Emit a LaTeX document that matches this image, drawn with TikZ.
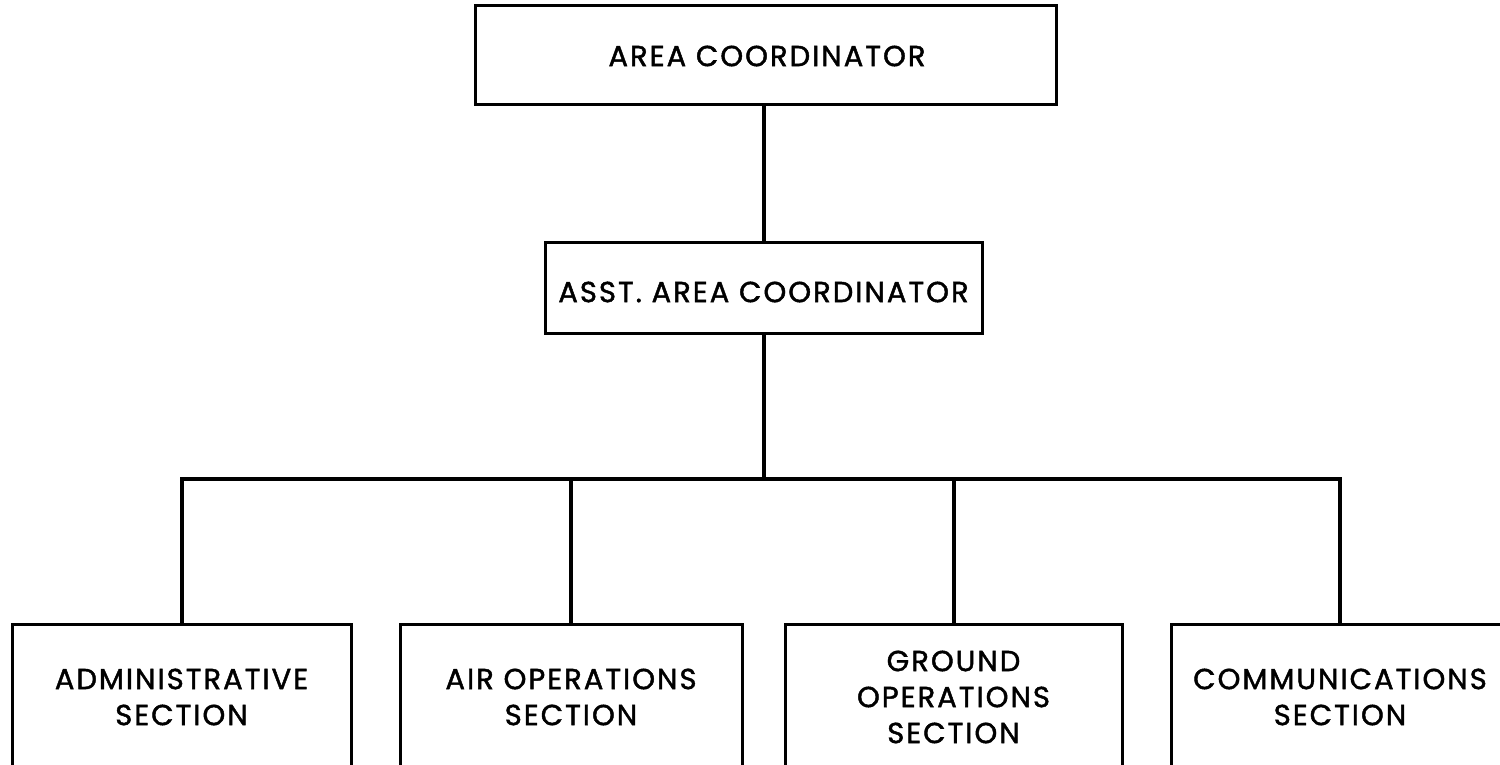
\documentclass[tikz,border=0pt]{standalone}
\usepackage{fontspec}
\setmainfont{Poppins}[LetterSpace=7, FakeBold=1.5]
\begin{document}
\begin{tikzpicture}[x={(1pt,0pt)},y={(0pt,-1pt)},
  orgbox/.style={draw, line width=3pt, rectangle, inner sep=0pt},
  boxtext/.style={align=center, font=\fontsize{29}{36}\selectfont, inner sep=0pt},
  link/.style={line width=4pt}]
\useasboundingbox (0,0) rectangle (1500,765);
\clip (0,0) rectangle (1500,765);

% top levels
\node[orgbox, minimum width=581pt, minimum height=99pt] (coord) at (766,55.5) {};
\node[boxtext] (coordtxt) at (767,56) {AREA COORDINATOR};
\node[orgbox, minimum width=437pt, minimum height=91pt] (asst) at (763.5,287.5) {};
\node[boxtext] (assttxt) at (763.5,292) {ASST. AREA COORDINATOR};

% sections (lower edges run past the page)
\foreach \name/\cx/\w/\txt in {
    admin/181.5/339/{ADMINISTRATIVE\\SECTION},
    air/571/342/{AIR OPERATIONS\\SECTION},
    ground/953.5/337/{GROUND\\OPERATIONS\\SECTION},
    comm/1340/338/{COMMUNICATIONS\\SECTION}} {
  \node[orgbox, anchor=north, minimum width=\w pt, minimum height=220pt] (\name) at (\cx,623) {};
  \node[boxtext] (\name txt) at (\cx,697) {\txt};
}

\coordinate (bus) at (0,479);
\draw[link] (asst.north |- coord.south) -- (asst.north);
\draw[link] (asst.south) -- (asst.south |- bus);
\draw[link] (admin.north) -- (admin.north |- bus) -- (comm.north |- bus) -- (comm.north);
\draw[link] (air.north) -- (air.north |- bus);
\draw[link] (ground.north) -- (ground.north |- bus);
\end{tikzpicture}
\end{document}
